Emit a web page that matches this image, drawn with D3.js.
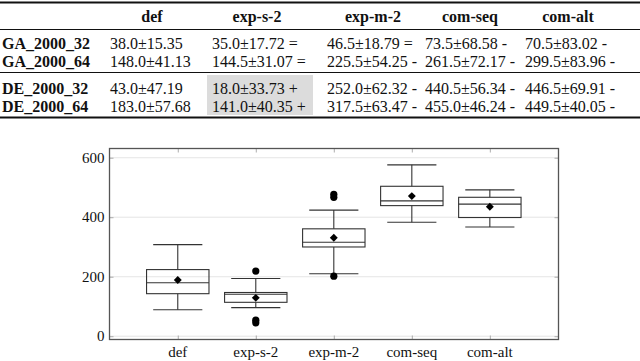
<!DOCTYPE html>
<html>
<head>
<meta charset="utf-8">
<script src="https://cdn.jsdelivr.net/npm/d3@7"></script>
<style>
  body { margin: 0; background: #fff; }
  svg { display: block; }
  svg text { font-family: 'Liberation Serif', 'DejaVu Serif', serif; }
</style>
</head>
<body>
<div id="chart"></div>
<script>
// table data
const tableColumns = ['def', 'exp-s-2', 'exp-m-2', 'com-seq', 'com-alt'];
const gaRows = ['GA_2000_32', 'GA_2000_64'];
const deRows = ['DE_2000_32', 'DE_2000_64'];
const gaCells = [
  ['38.0±15.35', '35.0±17.72 =', '46.5±18.79 =', '73.5±68.58 -', '70.5±83.02 -'],
  ['148.0±41.13', '144.5±31.07 =', '225.5±54.25 -', '261.5±72.17 -', '299.5±83.96 -']
];
const deCells = [
  ['43.0±47.19', '18.0±33.73 +', '252.0±62.32 -', '440.5±56.34 -', '446.5±69.91 -'],
  ['183.0±57.68', '141.0±40.35 +', '317.5±63.47 -', '455.0±46.24 -', '449.5±40.05 -']
];
const highlightColumn = 'exp-s-2';

// box plot data
const categories = ['def', 'exp-s-2', 'exp-m-2', 'com-seq', 'com-alt'];
const whiskerLow = [89, 96, 210, 383, 367];
const q1 = [143, 114, 300, 439, 399];
const medians = [180, 141, 316, 455, 444];
const q3 = [224, 147, 361, 504, 467];
const whiskerHigh = [308, 194, 424, 576, 492];
const means = [189, 129, 331, 471, 435];
const outliers = [[], [219, 54, 45], [477, 467, 202], [], []];
const yTicks = [0, 200, 400, 600];

const W = 640, H = 361;
const svg = d3.select('#chart').append('svg')
  .attr('width', W)
  .attr('height', H);

// ---- table ----
const colStart = [110, 212, 327, 425, 525];
const colCenter = [152, 257, 373, 470, 568];

const table = svg.append('g')
  .attr('font-size', 16)
  .attr('fill', '#111');

const hiIdx = tableColumns.indexOf(highlightColumn);
table.append('rect')
  .attr('x', colStart[hiIdx] - 5)
  .attr('y', 75)
  .attr('width', 106)
  .attr('height', 40)
  .attr('fill', '#dcdcdc');

const rules = [{ y: 2.5, w: 1.8 }, { y: 29.5, w: 1 }, { y: 72.5, w: 1.2 }, { y: 117.5, w: 1.8 }];
table.selectAll('.rule')
  .data(rules)
  .join('line')
  .attr('x1', 0)
  .attr('x2', W)
  .attr('y1', d => d.y)
  .attr('y2', d => d.y)
  .attr('stroke', '#111')
  .attr('stroke-width', d => d.w);

table.selectAll('.head')
  .data(tableColumns)
  .join('text')
  .attr('x', (d, i) => colCenter[i])
  .attr('y', 16)
  .attr('dy', '0.35em')
  .attr('text-anchor', 'middle')
  .attr('font-weight', 'bold')
  .text(d => d);

const rowGroups = [
  { names: gaRows, cells: gaCells, ys: [43, 61] },
  { names: deRows, cells: deCells, ys: [88, 106] }
];

rowGroups.forEach(grp => {
  grp.names.forEach((name, r) => {
    table.append('text')
      .attr('x', 2)
      .attr('y', grp.ys[r])
      .attr('dy', '0.35em')
      .attr('font-weight', 'bold')
      .text(name);
    table.append('g')
      .selectAll('text')
      .data(grp.cells[r])
      .join('text')
      .attr('x', (d, i) => colStart[i])
      .attr('y', grp.ys[r])
      .attr('dy', '0.35em')
      .text(d => d);
  });
});

// ---- box plot ----
const plot = { left: 109.5, right: 558.5, top: 148.5, bottom: 339.5 };

const xScale = d3.scaleLinear()
  .domain([0.125, 5.88])
  .range([plot.left, plot.right]);

const yScale = d3.scaleLinear()
  .domain([-11, 631])
  .range([plot.bottom, plot.top]);

const boxes = categories.map((name, i) => ({
  name, pos: i + 1,
  lo: whiskerLow[i], q1: q1[i], med: medians[i], q3: q3[i], hi: whiskerHigh[i],
  mean: means[i], out: outliers[i]
}));

const chart = svg.append('g');

// grid
chart.append('g')
  .selectAll('line')
  .data(yTicks)
  .join('line')
  .attr('x1', plot.left)
  .attr('x2', plot.right)
  .attr('y1', d => yScale(d))
  .attr('y2', d => yScale(d))
  .attr('stroke', '#dedede')
  .attr('stroke-width', 0.8);

// ticks (inward, on all sides)
const tickColor = '#999';
const yAxisL = d3.axisRight(yScale).tickValues(yTicks).tickSize(4).tickFormat('');
const yAxisR = d3.axisLeft(yScale).tickValues(yTicks).tickSize(4).tickFormat('');
const xAxisB = d3.axisTop(xScale).tickValues(boxes.map(d => d.pos)).tickSize(4).tickFormat('');
const xAxisT = d3.axisBottom(xScale).tickValues(boxes.map(d => d.pos)).tickSize(4).tickFormat('');

[[yAxisL, `translate(${plot.left},0)`], [yAxisR, `translate(${plot.right},0)`],
 [xAxisB, `translate(0,${plot.bottom})`], [xAxisT, `translate(0,${plot.top})`]]
  .forEach(([ax, tr]) => {
    chart.append('g')
      .attr('transform', tr)
      .call(ax)
      .call(g => g.select('.domain').remove())
      .call(g => g.selectAll('line').attr('stroke', tickColor).attr('stroke-width', 0.8));
  });

// tick labels
chart.append('g')
  .attr('font-size', 15)
  .attr('fill', '#111')
  .attr('text-anchor', 'end')
  .selectAll('text')
  .data(yTicks)
  .join('text')
  .attr('x', plot.left - 5)
  .attr('y', d => yScale(d))
  .attr('dy', '0.35em')
  .text(d => d);

chart.append('g')
  .attr('font-size', 15)
  .attr('fill', '#111')
  .attr('text-anchor', 'middle')
  .selectAll('text')
  .data(boxes)
  .join('text')
  .attr('x', d => xScale(d.pos))
  .attr('y', 357)
  .text(d => d.name);

// boxes
const boxW = 0.8, capW = 0.63;
const stroke = '#333';
const bx = chart.append('g')
  .attr('stroke', stroke)
  .attr('stroke-width', 1.1)
  .selectAll('g')
  .data(boxes)
  .join('g');

bx.append('line')
  .attr('x1', d => xScale(d.pos)).attr('x2', d => xScale(d.pos))
  .attr('y1', d => yScale(d.lo)).attr('y2', d => yScale(d.q1));
bx.append('line')
  .attr('x1', d => xScale(d.pos)).attr('x2', d => xScale(d.pos))
  .attr('y1', d => yScale(d.q3)).attr('y2', d => yScale(d.hi));
bx.append('line')
  .attr('x1', d => xScale(d.pos - capW / 2)).attr('x2', d => xScale(d.pos + capW / 2))
  .attr('y1', d => yScale(d.lo)).attr('y2', d => yScale(d.lo));
bx.append('line')
  .attr('x1', d => xScale(d.pos - capW / 2)).attr('x2', d => xScale(d.pos + capW / 2))
  .attr('y1', d => yScale(d.hi)).attr('y2', d => yScale(d.hi));
bx.append('rect')
  .attr('x', d => xScale(d.pos - boxW / 2))
  .attr('width', d => xScale(d.pos + boxW / 2) - xScale(d.pos - boxW / 2))
  .attr('y', d => yScale(d.q3))
  .attr('height', d => yScale(d.q1) - yScale(d.q3))
  .attr('fill', 'none');
bx.append('line')
  .attr('x1', d => xScale(d.pos - boxW / 2)).attr('x2', d => xScale(d.pos + boxW / 2))
  .attr('y1', d => yScale(d.med)).attr('y2', d => yScale(d.med));

// means
chart.append('g')
  .selectAll('path')
  .data(boxes)
  .join('path')
  .attr('d', d3.symbol(d3.symbolDiamond2, 40))
  .attr('transform', d => `translate(${xScale(d.pos)},${yScale(d.mean)})`)
  .attr('fill', '#000');

// outliers
chart.append('g')
  .selectAll('circle')
  .data(boxes.flatMap(b => b.out.map(v => ({ pos: b.pos, v }))))
  .join('circle')
  .attr('cx', d => xScale(d.pos))
  .attr('cy', d => yScale(d.v))
  .attr('r', 3.6)
  .attr('fill', '#000');

// frame
chart.append('rect')
  .attr('x', plot.left)
  .attr('y', plot.top)
  .attr('width', plot.right - plot.left)
  .attr('height', plot.bottom - plot.top)
  .attr('fill', 'none')
  .attr('stroke', '#555')
  .attr('stroke-width', 1.3);
</script>
</body>
</html>
